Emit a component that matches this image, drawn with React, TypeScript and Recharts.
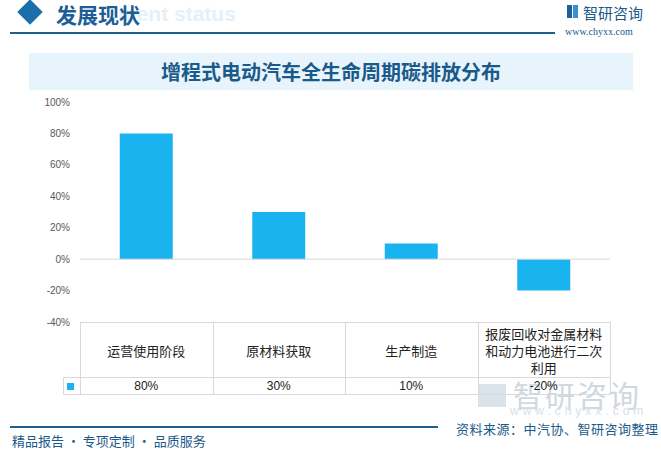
import { BarChart, Bar, XAxis, YAxis, ReferenceLine } from 'recharts';

const categories = [
  '运营使用阶段',
  '原材料获取',
  '生产制造',
  '报废回收对金属材料和动力电池进行二次利用',
];
const values = [80, 30, 10, -20];
const yTicks = [-40, -20, 0, 20, 40, 60, 80, 100];

const data = categories.map((name, i) => ({ name, value: values[i] }));

const BLUE = '#1a5a8a';
const BAR = '#19b4f0';
const BORDER = '#d9d9d9';

// plot box
const PLOT_LEFT = 80;
const PLOT_RIGHT = 610;
const PLOT_TOP = 102;
const PLOT_BOTTOM = 322;
const COL_W = (PLOT_RIGHT - PLOT_LEFT) / categories.length;

function DataTable() {
  const cell = (extra: any) => ({
    position: 'absolute' as const,
    boxSizing: 'border-box' as const,
    display: 'flex',
    alignItems: 'center',
    justifyContent: 'center',
    textAlign: 'center' as const,
    color: '#222',
    fontFamily: '"Noto Sans CJK SC", sans-serif',
    ...extra,
  });

  return (
    <div>
      {/* horizontal lines */}
      <div style={{ position: 'absolute', left: PLOT_LEFT, top: PLOT_BOTTOM, width: PLOT_RIGHT - PLOT_LEFT, height: 1, background: BORDER }} />
      <div style={{ position: 'absolute', left: 63, top: 377, width: PLOT_RIGHT - 63, height: 1, background: BORDER }} />
      <div style={{ position: 'absolute', left: 63, top: 394, width: PLOT_RIGHT - 63, height: 1, background: BORDER }} />
      {/* vertical lines */}
      <div style={{ position: 'absolute', left: 63, top: 377, width: 1, height: 18, background: BORDER }} />
      {categories.map((_, i) => (
        <div key={'v' + i} style={{ position: 'absolute', left: PLOT_LEFT + i * COL_W, top: PLOT_BOTTOM, width: 1, height: 73, background: BORDER }} />
      ))}
      <div style={{ position: 'absolute', left: PLOT_RIGHT, top: PLOT_BOTTOM, width: 1, height: 73, background: BORDER }} />

      {categories.map((c, i) => (
        <div
          key={'c' + i}
          style={cell({
            left: PLOT_LEFT + i * COL_W + 6,
            top: PLOT_BOTTOM + 1,
            width: COL_W - 12,
            height: 54,
            fontSize: 13,
            lineHeight: '17px',
          })}
        >
          {c}
        </div>
      ))}

      <div style={{ position: 'absolute', left: 67, top: 383, width: 7, height: 7, background: BAR }} />
      {values.map((v, i) => (
        <div
          key={'d' + i}
          style={cell({
            left: PLOT_LEFT + i * COL_W,
            top: 378,
            width: COL_W,
            height: 16,
            fontSize: 12,
            fontFamily: '"Liberation Sans", sans-serif',
          })}
        >
          {v}%
        </div>
      ))}
    </div>
  );
}

function Header() {
  return (
    <div>
      <div style={{ position: 'absolute', left: 118, top: 2, fontSize: 21, fontWeight: 700, color: '#e6f0f9', fontFamily: '"Liberation Sans", sans-serif', whiteSpace: 'nowrap' }}>
        ment status
      </div>
      <div style={{ position: 'absolute', left: 21, top: 3, width: 18, height: 18, background: '#1a6faa', transform: 'rotate(45deg)' }} />
      <div style={{ position: 'absolute', left: 56, top: -1, fontSize: 21, fontWeight: 700, color: '#1b5f96', fontFamily: '"Noto Sans CJK SC", sans-serif' }}>
        发展现状
      </div>
      <div style={{ position: 'absolute', left: 10, top: 32, width: 545, height: 2, background: '#1f5f8c' }} />

      {/* logo */}
      <div style={{ position: 'absolute', left: 567, top: 5, width: 5, height: 13, background: '#1f5f9c' }} />
      <div style={{ position: 'absolute', left: 573, top: 5, width: 5, height: 13, background: '#3a8fd0' }} />
      <div style={{ position: 'absolute', left: 583, top: 2, fontSize: 15, color: BLUE, fontFamily: '"Noto Sans CJK SC", sans-serif' }}>
        智研咨询
      </div>
      <div style={{ position: 'absolute', left: 565, top: 26, fontSize: 10, color: BLUE, fontFamily: '"Liberation Serif", serif' }}>
        www.chyxx.com
      </div>

      {/* title band */}
      <div
        style={{
          position: 'absolute',
          left: 29,
          top: 53,
          width: 604,
          height: 37,
          background: '#e8f4fc',
          display: 'flex',
          alignItems: 'center',
          justifyContent: 'center',
          fontSize: 20,
          fontWeight: 700,
          color: BLUE,
          fontFamily: '"Noto Sans CJK SC", sans-serif',
        }}
      >
        增程式电动汽车全生命周期碳排放分布
      </div>
    </div>
  );
}

function Watermark() {
  return (
    <div>
      <div style={{ position: 'absolute', left: 478, top: 384, width: 28, height: 23, background: '#dbe3ea' }} />
      <div style={{ position: 'absolute', left: 513, top: 376, fontSize: 30, lineHeight: '36px', color: '#d0d8df', fontFamily: '"Noto Sans CJK SC", sans-serif', letterSpacing: 2, whiteSpace: 'nowrap' }}>
        智研咨询
      </div>
      <div style={{ position: 'absolute', left: 510, top: 404, fontSize: 12, color: '#d8dfe5', fontFamily: '"Liberation Sans", sans-serif', letterSpacing: 4, whiteSpace: 'nowrap' }}>
        www.chyxx.com
      </div>
    </div>
  );
}

function Footer() {
  return (
    <div>
      <div style={{ position: 'absolute', left: 10, top: 426, width: 428, height: 2, background: '#1f5f8c' }} />
      <div style={{ position: 'absolute', left: 12, top: 433, fontSize: 13, lineHeight: '15px', color: BLUE, fontFamily: '"Noto Sans CJK SC", sans-serif', whiteSpace: 'nowrap' }}>
        精品报告 · 专项定制 · 品质服务
      </div>
      <div style={{ position: 'absolute', left: 456, top: 421, fontSize: 13, lineHeight: '16px', color: BLUE, fontFamily: '"Noto Sans CJK SC", sans-serif', whiteSpace: 'nowrap', letterSpacing: 0.5 }}>
        资料来源：中汽协、智研咨询整理
      </div>
    </div>
  );
}

export default function App() {
  return (
    <div style={{ position: 'fixed', left: 0, top: 0, width: 661, height: 449, background: '#fff', overflow: 'hidden' }}>
      <Watermark />
      <Header />
      <div style={{ position: 'absolute', left: 0, top: 0 }}>
        <BarChart
          width={661}
          height={449}
          data={data}
          margin={{ top: PLOT_TOP, right: 661 - PLOT_RIGHT, bottom: 449 - PLOT_BOTTOM, left: 10 }}
          barCategoryGap='30%'
        >
          <XAxis dataKey='name' hide />
          <YAxis
            width={70}
            domain={[-40, 100]}
            ticks={yTicks}
            interval={0}
            axisLine={false}
            tickLine={false}
            tickMargin={4}
            tickFormatter={(v: number) => `${v}%`}
            tick={{ fontSize: 10, fill: '#595959', fontFamily: 'Liberation Sans' }}
          />
          <ReferenceLine y={0} stroke={BORDER} />
          <Bar dataKey='value' fill={BAR} isAnimationActive={false} />
        </BarChart>
      </div>
      <DataTable />
      <Footer />
    </div>
  );
}
